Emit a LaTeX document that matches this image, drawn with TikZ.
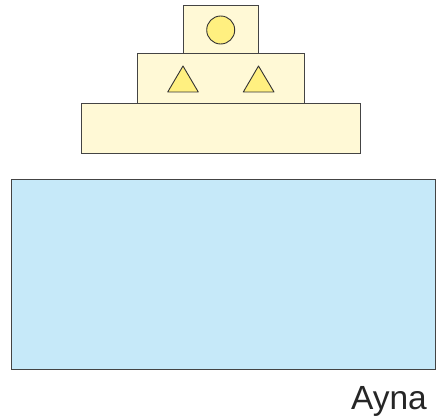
\documentclass[tikz,border=0pt]{standalone}
\usepackage{fontspec}
\setmainfont{Liberation Sans}
\definecolor{paleyel}{HTML}{FFF9D6}
\definecolor{shapeyel}{HTML}{FFF080}
\definecolor{mirror}{HTML}{C6E9F9}
\definecolor{edge}{HTML}{444444}
\begin{document}
\begin{tikzpicture}[x=1pt,y=-1pt,
  block/.style={fill=paleyel,draw=edge,line width=1pt},
  shp/.style={fill=shapeyel,draw=black!80,line width=0.9pt,line join=round}]
\useasboundingbox (0,0) rectangle (437,417);
\draw[block] (81.7,103.3) rectangle (360,153.3);
\draw[block] (137.3,54) rectangle (304.7,103.3);
\draw[block] (183.3,5.3) rectangle (258.7,54);
\draw[shp] (220.7,30) circle[radius=14];
\draw[shp] (167.7,92) -- (183,66) -- (198.3,92) -- cycle;
\draw[shp] (243.3,92) -- (258.5,66) -- (274,92) -- cycle;
\draw[fill=mirror,draw=edge,line width=1pt] (11.7,179.3) rectangle (435,369.3);
\node[anchor=base,inner sep=0pt,font=\fontsize{33.5}{36}\selectfont,text=black!85] (lbl) at (389,409.3) {Ayna};
\end{tikzpicture}
\end{document}
